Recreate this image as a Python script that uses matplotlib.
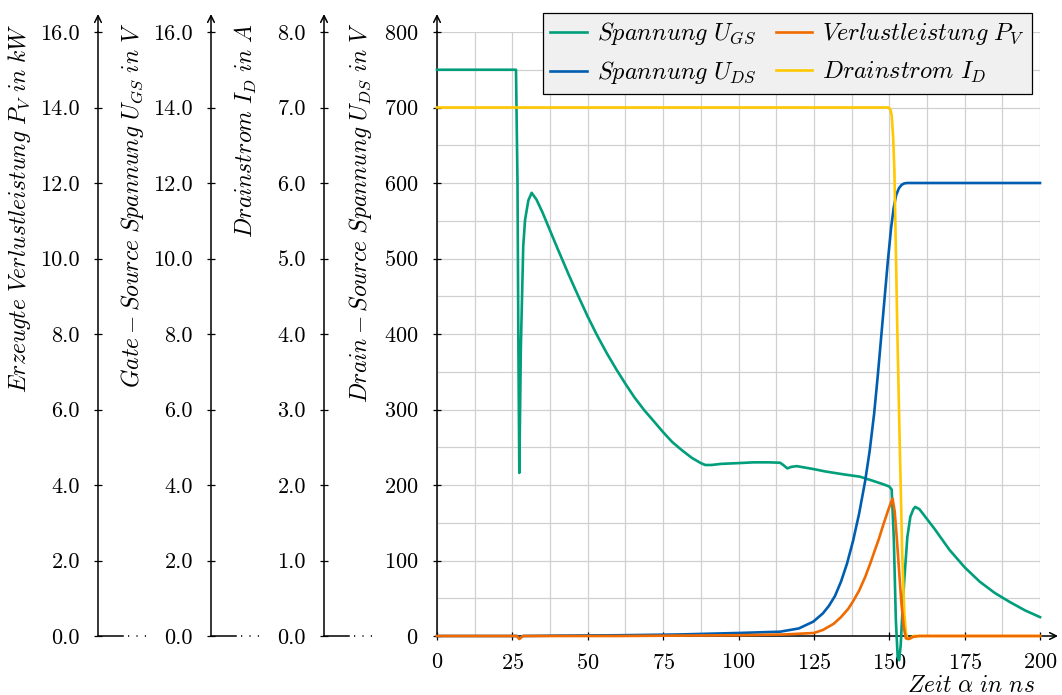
import matplotlib
matplotlib.use("Agg")
import matplotlib.pyplot as plt
from matplotlib.lines import Line2D
from matplotlib.ticker import MultipleLocator, FormatStrFormatter

plt.rcParams['font.family'] = ['cmr10', 'DejaVu Serif']
plt.rcParams['mathtext.fontset'] = 'cm'
plt.rcParams['axes.formatter.use_mathtext'] = True

# --- data (all in the scale of the U_DS axis, 0..800) ---
t_ugs = [0, 26.2, 26.7, 27.0, 27.3, 27.8, 28.6, 29.2, 30.3, 31.4, 33, 35, 37.5, 40, 43.75,
         47, 50, 53, 56.25, 59.5, 62.5, 65.5, 68.75, 72, 75, 78, 81.25, 84.5, 87.5, 89, 91,
         94.3, 100, 105, 110, 113.8, 115, 116.2, 117.5, 119.3, 125, 128.7, 135, 140.3, 145,
         148, 150, 150.8, 151.5, 152.2, 152.8, 153.3, 153.8, 154.4, 155, 156, 157, 158, 158.6,
         160, 165, 170, 175, 180, 185, 190, 195, 200]
v_ugs = [750, 750, 600, 380, 216, 380, 516, 551, 577, 587, 578, 561, 537, 513, 478, 449, 423,
         399, 375, 353, 334, 316, 299, 284, 270, 257, 246, 236, 229, 226.5, 226.5, 228, 229,
         230, 230, 229.5, 226, 222, 224, 225, 221, 218, 214, 211, 205, 201, 198, 194, 130, 20,
         -28, -32, -12, 35, 75, 131, 158, 168, 171, 168, 142, 114, 91, 72, 57, 45, 34, 25]

t_uds = [0, 26.5, 27.3, 28.5, 40, 60, 80, 100, 113.8, 120, 124.8, 128, 130, 132, 134, 136,
         138, 140, 142, 143.5, 145, 146.2, 147.3, 148.4, 149.5, 150.6, 151.5, 152.3, 153.2,
         154.1, 155, 156, 160, 200]
v_uds = [0, 0, -3, 0, 0.5, 1, 2, 4, 5.7, 10, 19, 30, 40, 53, 72, 96, 126, 162, 205, 245, 295,
         345, 395, 445, 495, 540, 568, 584, 593, 597.5, 599.5, 600, 600, 600]

t_pv = [0, 26.5, 27.3, 28.5, 60, 100, 115, 120, 125, 128, 131.5, 134, 136.4, 138, 140, 142,
        143.6, 145, 146.5, 148, 149.5, 150.5, 151.1, 151.8, 152.5, 153.2, 154, 154.8, 155.5,
        156.5, 158, 160, 200]
v_pv = [0, 0, -4, 0, 0, 1, 2, 3, 4, 8, 16, 25, 36, 46, 60, 78, 95, 111, 128, 147, 165, 176,
        182, 165, 130, 90, 45, 12, -3, -4, -1, 0, 0]

t_id = [0, 149.8, 150.4, 150.8, 151.3, 151.7, 152.2, 152.7, 153.5, 154.3, 155, 155.5, 156,
        157, 158, 200]
v_id = [700, 700, 697, 690, 660, 617, 510, 400, 250, 110, 30, 5, -4, -3, 0, 0]

x_ticks = [0, 25, 50, 75, 100, 125, 150, 175, 200]
uds_ticks = [0, 100, 200, 300, 400, 500, 600, 700, 800]

# extra axes: (spine x in px, max value, step, label)
extra_axes = [
    (98, 16.0, 2.0, r'$Erzeugte\ Verlustleistung\ P_V\ in\ kW$'),
    (211, 16.0, 2.0, r'$Gate-Source\ Spannung\ U_{GS}\ in\ V$'),
    (324, 8.0, 1.0, r'$Drainstrom\ I_D\ in\ A$'),
]

c_ugs = '#009e7a'
c_uds = '#005eb0'
c_pv = '#f06a00'
c_id = '#ffc800'

FS_TICK = 16
FS_LAB = 17
FS_LEG = 17.5

W, H = 1062, 695
fig = plt.figure(figsize=(W / 100, H / 100), dpi=100)


def fx(px):
    return px / W


def fy(py):
    return 1 - py / H


x0, x1, y0, y1 = 437, 1040, 636, 32
ax = fig.add_axes([fx(x0), fy(y0), fx(x1) - fx(x0), fy(y1) - fy(y0)])
ax.set_xlim(0, 200)
ax.set_ylim(0, 800)
ax.set_xticks(x_ticks)
ax.set_yticks(uds_ticks)
ax.xaxis.set_minor_locator(MultipleLocator(12.5))
ax.yaxis.set_minor_locator(MultipleLocator(50))
ax.grid(which='both', color='#d0d0d0', lw=0.9)
ax.set_axisbelow(True)
ax.tick_params(which='major', direction='inout', length=6, width=0.9, labelsize=FS_TICK)
ax.tick_params(axis='y', pad=10.5)
ax.tick_params(axis='x', pad=9)
ax.tick_params(which='minor', length=0)
for s in ['top', 'right']:
    ax.spines[s].set_visible(False)
for s in ['left', 'bottom']:
    ax.spines[s].set_linewidth(1.1)

lw = 1.9
l_ugs, = ax.plot(t_ugs, v_ugs, color=c_ugs, lw=lw, clip_on=False, zorder=3)
l_uds, = ax.plot(t_uds, v_uds, color=c_uds, lw=lw, clip_on=False, zorder=3)
l_id, = ax.plot(t_id, v_id, color=c_id, lw=lw, clip_on=False, zorder=4)
l_pv, = ax.plot(t_pv, v_pv, color=c_pv, lw=lw, clip_on=False, zorder=5)

# arrows on main axes
arrow = dict(arrowstyle='->', lw=1.1, color='black', shrinkA=0, shrinkB=0, mutation_scale=12)
ax.annotate('', xy=(fx(x0), fy(14)), xytext=(fx(x0), fy(y1)), xycoords='figure fraction',
            arrowprops=arrow)
ax.annotate('', xy=(fx(1058), fy(y0)), xytext=(fx(x1), fy(y0)), xycoords='figure fraction',
            arrowprops=arrow)

ax.text(fx(360), fy(23), r'$Drain-Source\ Spannung\ U_{DS}\ in\ V$', transform=fig.transFigure,
        rotation=90, ha='center', va='top', fontsize=FS_LAB)
ax.text(fx(1035), fy(686), r'$Zeit\ \alpha\ in\ ns$', transform=fig.transFigure,
        ha='right', va='center', fontsize=FS_LAB)

for px, vmax, step, label in extra_axes:
    ea = fig.add_axes([fx(px), fy(y0), 1e-4, fy(y1) - fy(y0)])
    ea.patch.set_visible(False)
    for s in ['top', 'right', 'bottom']:
        ea.spines[s].set_visible(False)
    ea.spines['left'].set_linewidth(1.1)
    ea.set_ylim(0, vmax)
    ea.yaxis.set_major_locator(MultipleLocator(step))
    ea.yaxis.set_major_formatter(FormatStrFormatter('%.1f'))
    ea.set_xticks([])
    ea.tick_params(direction='inout', length=6, width=0.9, labelsize=FS_TICK, pad=10)
    ea.annotate('', xy=(fx(px), fy(14)), xytext=(fx(px), fy(y1)), xycoords='figure fraction',
                arrowprops=arrow)
    fig.add_artist(Line2D([fx(px), fx(px + 25)], [fy(y0), fy(y0)], color='black', lw=1.1))
    fig.add_artist(Line2D([fx(px + 30), fx(px + 50)], [fy(y0), fy(y0)], color='black', lw=1.1,
                          ls=(0, (0.8, 4.7))))
    fig.text(fx(px - 78), fy(23), label, rotation=90, ha='center', va='top', fontsize=FS_LAB)

leg = ax.legend([l_ugs, l_uds, l_pv, l_id],
                [r'$Spannung\ U_{GS}$', r'$Spannung\ U_{DS}$',
                 r'$Verlustleistung\ P_V$', r'$Drainstrom\ I_D$'],
                ncol=2, loc='upper right', bbox_to_anchor=(fx(1032), fy(13)),
                bbox_transform=fig.transFigure, fontsize=FS_LEG, fancybox=False, framealpha=1,
                facecolor='#f0f0f0', edgecolor='black', borderaxespad=0, handlelength=1.5,
                handletextpad=0.4, columnspacing=0.8, labelspacing=0.5, borderpad=0.3)
leg.get_frame().set_linewidth(0.9)
leg.set_zorder(10)

fig.savefig('out.png', dpi=100)
